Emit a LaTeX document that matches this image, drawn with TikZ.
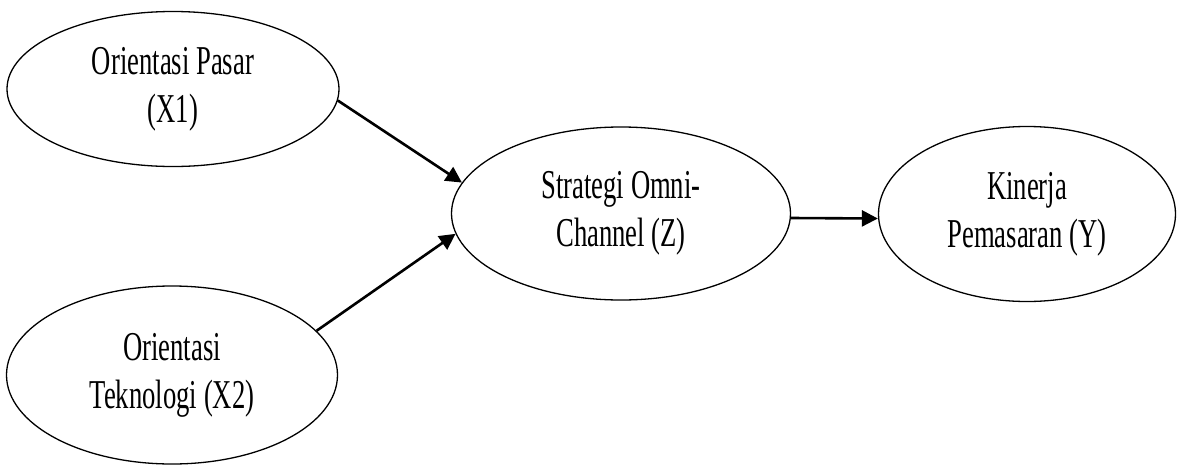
\documentclass[tikz,border=0pt]{standalone}
\usepackage{fontspec}
\setmainfont{Liberation Serif}
\newfontfamily\nodefont[FakeStretch=0.65]{Liberation Serif}
\usetikzlibrary{shapes.geometric,arrows.meta}
\tikzset{
  var/.style={draw=black, line width=1.3pt, ellipse, inner sep=0pt, align=center,
    font=\nodefont\fontsize{41}{48}\selectfont},
  arr/.style={line width=2.6pt, -{Triangle[length=16pt,width=16pt]}}
}
\begin{document}
\begin{tikzpicture}[x=1pt,y=-1pt]
\useasboundingbox[fill=white] (0,0) rectangle (1178,466);
\node[var, minimum width=332pt, minimum height=155pt] (X1) at (173,89) {Orientasi Pasar\\(X1)};
\node[var, minimum width=331pt, minimum height=178pt] (X2) at (172,375) {Orientasi\\Teknologi (X2)};
\node[var, minimum width=339pt, minimum height=173pt] (Z) at (621,213.5) {Strategi Omni-\\Channel (Z)};
\node[var, minimum width=297pt, minimum height=175pt] (Y) at (1027,214) {Kinerja\\Pemasaran (Y)};
\draw[arr] (X1.-4.5) -- (Z.169);
\draw[arr] (X2.17) -- (Z.-173);
\draw[arr] ([yshift=-4.5pt]Z.east) -- ([yshift=-4.5pt]Y.west);
\end{tikzpicture}
\end{document}
